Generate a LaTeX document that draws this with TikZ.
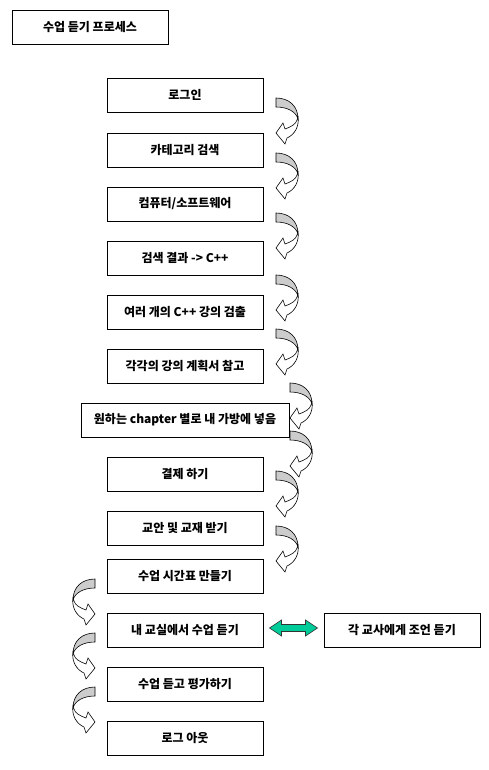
\documentclass[tikz,border=0pt]{standalone}
\usepackage{fontspec}
\setmainfont{Noto Sans CJK KR}
\usetikzlibrary{calc}
\definecolor{bandgray}{RGB}{204,204,204}
\definecolor{teal}{RGB}{0,204,153}
\tikzset{
  box/.style={draw=black, line width=0.9pt, fill=white, minimum width=156pt, minimum height=34pt, inner sep=0pt, font=\fontsize{12pt}{14pt}\selectfont\bfseries},
  curvarrow/.pic={
    \filldraw[fill=white, draw=black, line width=0.6pt]
      (22,19) .. controls (23.5,29) and (18,37) .. (11,40) -- (9,46) -- (0,35) -- (7,25)
      -- (9,31) .. controls (15,29) and (20,26) .. (21,22) -- cycle;
    \filldraw[fill=bandgray, draw=black, line width=0.6pt]
      (0,0) .. controls (13,0) and (22,8) .. (22,21) .. controls (20,14) and (12,9) .. (0,9) -- cycle;
  }
}
\begin{document}
\begin{tikzpicture}[x=1pt,y=-1pt]
\useasboundingbox (0,0) rectangle (488,770);
\fill[white] (0,0) rectangle (488,770);
% title
\node[box] (title) at (90,27) {수업 듣기 프로세스};
% main boxes
\node[box] (b1) at (185,95) {로그인};
\node[box] (b2) at (185,150) {카테고리 검색};
\node[box] (b3) at (185,204) {컴퓨터/소프트웨어};
\node[box] (b4) at (185,258) {검색 결과 -> C++};
\node[box] (b5) at (185,312) {여러 개의 C++ 강의 검출};
\node[box] (b6) at (185,366) {각각의 강의 계획서 참고};
\node[box, minimum width=208pt] (b7) at (185,420) {원하는 chapter 별로 내 가방에 넣음};
\node[box] (b8) at (185,474) {결제 하기};
\node[box] (b9) at (185,528) {교안 및 교재 받기};
\node[box] (b10) at (185,576) {수업 시간표 만들기};
\node[box] (b11) at (185,630) {내 교실에서 수업 듣기};
\node[box] (b12) at (185,684) {수업 듣고 평가하기};
\node[box] (b13) at (185,738.5) {로그 아웃};
\node[box] (side) at (402,630) {각 교사에게 조언 듣기};
% curved arrows (right side)
\pic at (276,98) {curvarrow};
\pic at (276,153) {curvarrow};
\pic at (276,213) {curvarrow};
\pic at (276,275) {curvarrow};
\pic at (276,329) {curvarrow};
\pic at (290,383) {curvarrow};
\pic at (290,431) {curvarrow};
\pic at (276,471) {curvarrow};
\pic at (276,526) {curvarrow};
% curved arrows (left side, mirrored)
\pic[xscale=-1] at (95,579) {curvarrow};
\pic[xscale=-1] at (95,633) {curvarrow};
\pic[xscale=-1] at (95,687) {curvarrow};
% double arrow between b11 and side
\coordinate (m) at ($(b11.east)!0.5!(side.west)+(0,-2)$);
\filldraw[fill=teal, draw=black!80, line width=0.6pt]
  ($(m)+(-24,0)$) -- ++(12,-8) -- ++(0,4.5) -- ++(24,0) -- ++(0,-4.5) -- ++(12,8)
  -- ++(-12,8) -- ++(0,-4.5) -- ++(-24,0) -- ++(0,4.5) -- cycle;
\end{tikzpicture}
\end{document}
